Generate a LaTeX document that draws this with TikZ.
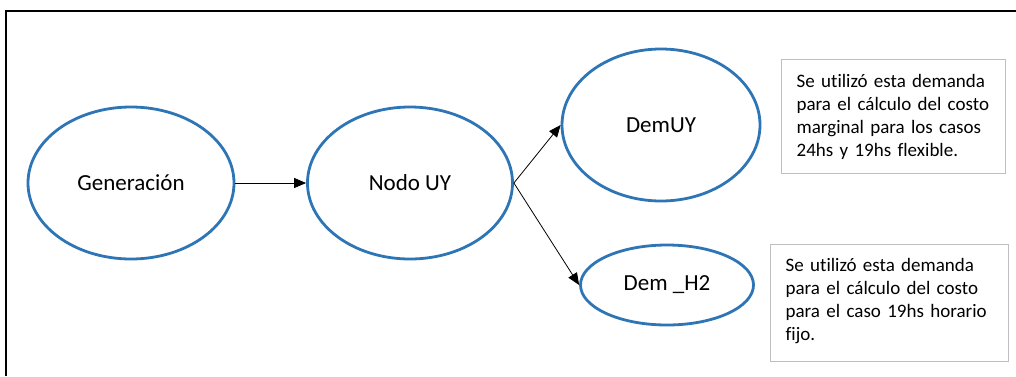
\documentclass[tikz,border=0pt]{standalone}
\usepackage{fontspec}
\setmainfont{Carlito}[Ligatures={NoCommon}]
\usetikzlibrary{shapes.geometric,arrows.meta}
\definecolor{ellblue}{RGB}{46,117,182}
\definecolor{boxgray}{RGB}{191,191,191}
\begin{document}
\begin{tikzpicture}[x=1pt,y=-1pt,
  oval/.style={ellipse,draw=ellblue,line width=2.8pt,inner sep=0pt,font=\fontsize{23}{27}\selectfont},
  note/.style={rectangle,draw=boxgray,line width=1.3pt,align=left,inner xsep=15pt,inner ysep=0pt,
    font=\fontsize{19}{23}\selectfont},
  conn/.style={line width=0.8pt,-{Triangle[length=12pt,width=10pt]}}]
\useasboundingbox (0,0) rectangle (1016,376);
\draw[line width=1.3pt] (6,376) -- (6,11) -- (1016,11);
\node[oval,minimum width=206pt,minimum height=152pt] (gen) at (131,183) {Generación};
\node[oval,minimum width=205pt,minimum height=152pt] (nodo) at (410,183) {Nodo UY};
\node[oval,minimum width=198pt,minimum height=152pt] (demuy) at (661,125) {DemUY};
\node[oval,minimum width=173pt,minimum height=80pt] (demh) at (667,285) {Dem \_H2};
\node[note,text width=194pt,minimum height=114pt,anchor=north west] (n1) at (781,59)
  {Se utilizó esta demanda\\para el cálculo del costo\\marginal para los casos\\24hs y 19hs flexible.};
\node[note,text width=208pt,minimum height=117pt,anchor=north west] (n2) at (770,244)
  {Se utilizó esta demanda\\para el cálculo del costo\\para el caso 19hs horario\\fijo.\vphantom{p}\vspace{4pt}};
\draw[conn] (gen.east) -- (nodo.west);
\draw[conn] (nodo.east) -- (demuy.west);
\draw[conn] (nodo.east) -- (demh.west);
\end{tikzpicture}
\end{document}
